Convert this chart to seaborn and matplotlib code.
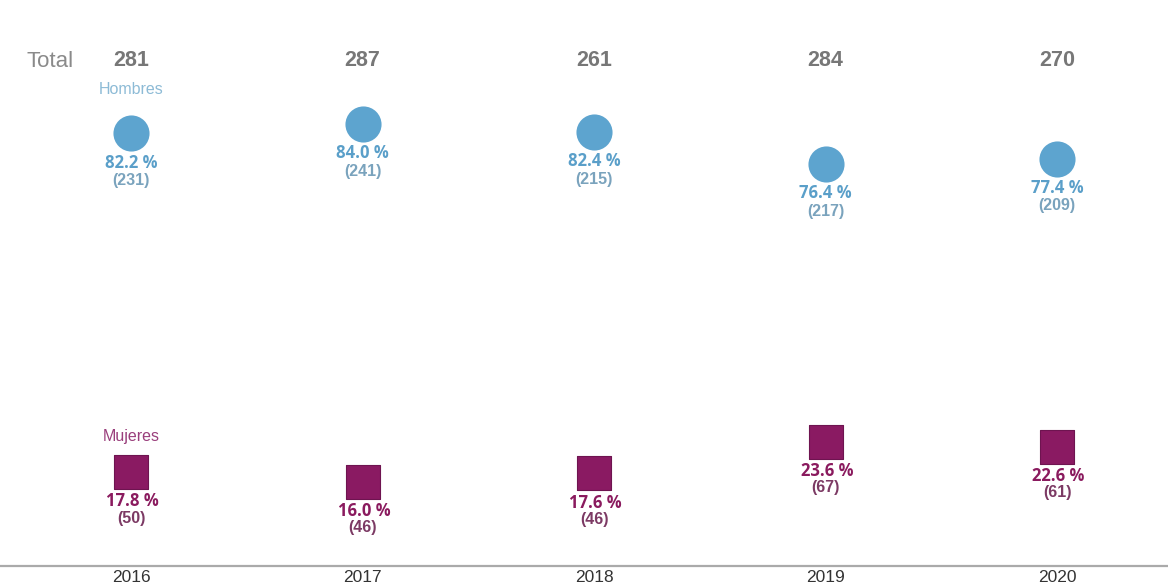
import matplotlib
matplotlib.use("Agg")
import matplotlib.pyplot as plt
import seaborn as sns
import pandas as pd

years = ["2016", "2017", "2018", "2019", "2020"]
totals = [281, 287, 261, 284, 270]
hombres_pct = [82.2, 84.0, 82.4, 76.4, 77.4]
hombres_n = [231, 241, 215, 217, 209]
mujeres_pct = [17.8, 16.0, 17.6, 23.6, 22.6]
mujeres_n = [50, 46, 46, 67, 61]

BLUE = "#5da4cf"
BLUE_TXT = "#5a9fc9"
BLUE_CNT = "#7aa3bd"
BLUE_LBL = "#8dbbd6"
PURPLE = "#8a1a62"
PURPLE_TXT = "#8a1a5e"
PURPLE_CNT = "#7c3a64"
PURPLE_LBL = "#9a3f7c"
GRAY = "#777777"

sns.set_theme(style="white")
plt.rcParams["font.family"] = ["Liberation Sans", "DejaVu Sans"]

df_h = pd.DataFrame({"x": range(len(years)), "pct": hombres_pct})
df_m = pd.DataFrame({"x": range(len(years)), "pct": mujeres_pct})

fig = plt.figure(figsize=(11.68, 5.83), dpi=100)
ax = fig.add_axes([0, 0, 1, 1])

sns.scatterplot(data=df_h, x="x", y="pct", marker="o", s=26 ** 2, color=BLUE,
                edgecolor=BLUE, linewidth=0, ax=ax, legend=False, zorder=3)
sns.scatterplot(data=df_m, x="x", y="pct", marker="s", s=24 ** 2, color=PURPLE,
                edgecolor="#6e1450", linewidth=0.8, ax=ax, legend=False, zorder=3)

ax.set_xlim(-131 / 231.5, (1168 - 131) / 231.5)
ax.set_ylim(-(583 - 566) / 5.263, 566 / 5.263)
ax.axis("off")

# baseline
ax.axhline(0, color="#aaaaaa", lw=1.6, zorder=1)

xt = ax.get_xaxis_transform()
for i, y in enumerate(years):
    ax.text(i, 0.010, y, transform=xt, ha="center", va="center",
            fontsize=12.5, color="#333333")
    ax.text(i, 0.897, str(totals[i]), transform=xt, ha="center", va="center",
            fontsize=15.5, color=GRAY, fontweight="bold")

ax.text(-0.35, 0.895, "Total", transform=xt, ha="center", va="center",
        fontsize=16, color="#8a8a8a")
ax.text(0, 0.846, "Hombres", transform=xt, ha="center", va="center",
        fontsize=11.5, color=BLUE_LBL)
ax.text(0, 0.252, "Mujeres", transform=xt, ha="center", va="center",
        fontsize=11.5, color=PURPLE_LBL)

for i in range(len(years)):
    ax.annotate(f"{hombres_pct[i]:.1f} %", (i, hombres_pct[i]), xytext=(0, -21),
                textcoords="offset points", ha="center", va="center",
                fontsize=12, fontweight="bold", color=BLUE_TXT, family="Open Sans")
    ax.annotate(f"({hombres_n[i]})", (i, hombres_pct[i]), xytext=(0, -34),
                textcoords="offset points", ha="center", va="center",
                fontsize=11.5, fontweight="bold", color=BLUE_CNT)
    ax.annotate(f"{mujeres_pct[i]:.1f} %", (i, mujeres_pct[i]), xytext=(1, -21),
                textcoords="offset points", ha="center", va="center",
                fontsize=12, fontweight="bold", color=PURPLE_TXT, family="Open Sans")
    ax.annotate(f"({mujeres_n[i]})", (i, mujeres_pct[i]), xytext=(0, -33),
                textcoords="offset points", ha="center", va="center",
                fontsize=11.5, fontweight="bold", color=PURPLE_CNT)

fig.savefig("out.png", dpi=100, facecolor="white")
